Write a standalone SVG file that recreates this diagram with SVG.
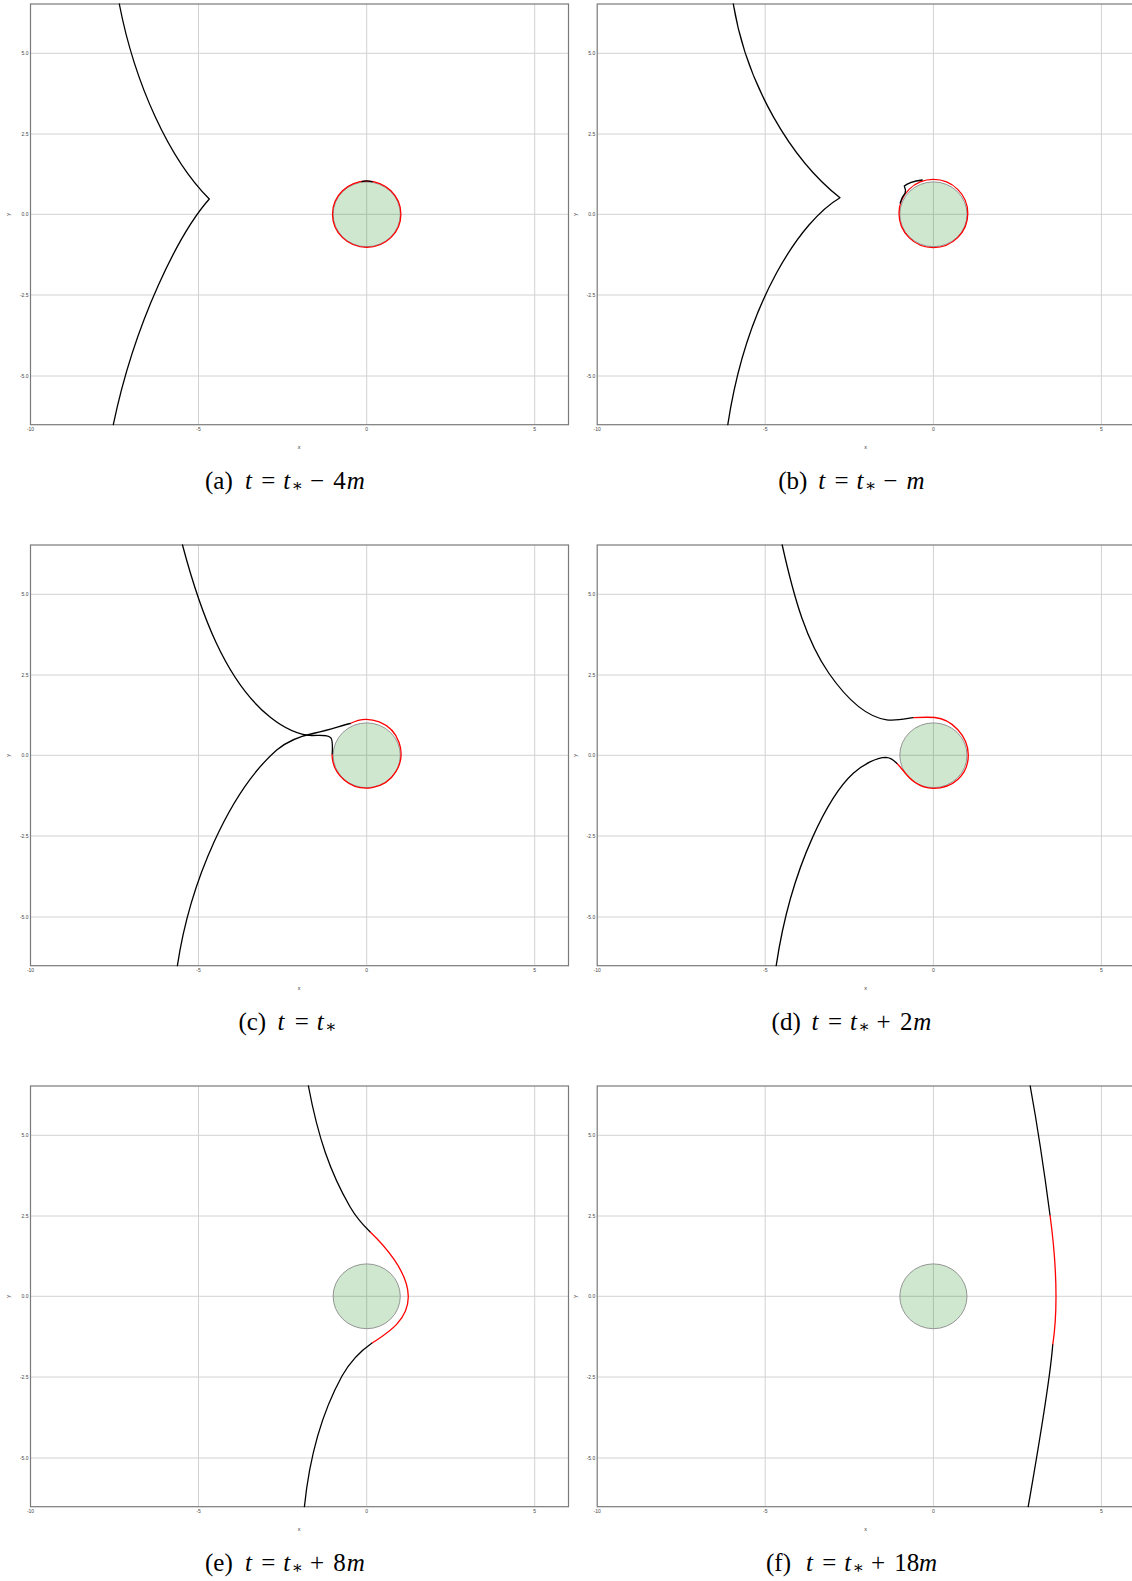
<svg xmlns="http://www.w3.org/2000/svg" xmlns:xlink="http://www.w3.org/1999/xlink" width="1132" height="1581" viewBox="0 0 1132 1581">
<style>
.grid{stroke:#d2d2d2;stroke-width:1;fill:none}
.frame{stroke:#7a7a7a;stroke-width:1.2;fill:none}
.tick{font-family:"Liberation Sans",Arial,sans-serif;font-size:5px;fill:#444}
.ax{font-family:"Liberation Sans",Arial,sans-serif;font-size:5.5px;fill:#333}
.body{fill:#008000;fill-opacity:0.19;stroke:#8a8a8a;stroke-width:0.9}
.cb{fill:none;stroke:#000;stroke-width:1.3;stroke-linejoin:round;stroke-linecap:round}
.cr{fill:none;stroke:#ff0000;stroke-width:1.3;stroke-linejoin:round}
.cap{font-family:"Liberation Serif","Times New Roman",serif;font-size:25px;fill:#000}
.i{font-style:italic}
.ast{font-family:"DejaVu Serif",serif;font-size:17px}
</style>
<defs>
<g id="axes">
<path class="grid" d="M198.5,4V424.7M366.7,4V424.7M534.7,4V424.7M30.5,53.3H568.5M30.5,134H568.5M30.5,214.3H568.5M30.5,295H568.5M30.5,376H568.5"/>
<rect class="frame" x="30.5" y="4" width="538" height="420.7"/>
<g class="tick" text-anchor="end">
<text x="28.5" y="55">5.0</text>
<text x="28.5" y="135.8">2.5</text>
<text x="28.5" y="216.1">0.0</text>
<text x="28.5" y="296.8">-2.5</text>
<text x="28.5" y="377.8">-5.0</text>
</g>
<g class="tick" text-anchor="middle">
<text x="30.5" y="431">-10</text>
<text x="198.5" y="431">-5</text>
<text x="366.7" y="431">0</text>
<text x="534.7" y="431">5</text>
</g>
<text class="ax" x="299" y="449" text-anchor="middle">x</text>
<text class="ax" transform="translate(10,214.3) rotate(-90)" text-anchor="middle">y</text>
<ellipse class="body" cx="366.7" cy="214.3" rx="33.6" ry="32.4"/>
</g>
</defs>

<g id="panel-a">
<use xlink:href="#axes" href="#axes"/>
<ellipse class="cr" cx="366.7" cy="214.2" rx="34.2" ry="33.1"/>
<path class="cb" d="M119.3,4 C135,85 170,160 209.3,199 C180,232 135,320 113.3,424.7"/>
<path class="cb" d="M362,181.3 Q366.7,180.3 372,181.6"/>
<text class="cap" y="488.5"><tspan x="205">(a)</tspan><tspan x="245" class="i">t</tspan><tspan x="261.3">=</tspan><tspan x="283.3" class="i">t</tspan><tspan x="291.8" y="491" class="ast">∗</tspan><tspan x="310" y="488.5">−</tspan><tspan x="333.3">4</tspan><tspan x="346.7" class="i">m</tspan></text>
</g>

<g id="panel-b" transform="translate(566.7,0)">
<use xlink:href="#axes" href="#axes"/>
<ellipse class="cr" cx="366.7" cy="213.5" rx="34.4" ry="34.1"/>
<path class="cb" d="M166.6,4 C180,85 225,160 273.3,197.7 C235,220 180,300 161.1,424.7"/>
<path class="cb" d="M355.5,180 C348,181 341,183 337.6,186 C338.5,188 339,191 338.5,193 C336,196 334.5,199 333.5,203"/>
<text class="cap" y="488.5"><tspan x="211.6">(b)</tspan><tspan x="251.6" class="i">t</tspan><tspan x="267.9">=</tspan><tspan x="289.9" class="i">t</tspan><tspan x="298.4" y="491" class="ast">∗</tspan><tspan x="316.6" y="488.5">−</tspan><tspan x="339.9" class="i">m</tspan></text>
</g>

<g id="panel-c" transform="translate(0,541)">
<use xlink:href="#axes" href="#axes"/>
<path class="cr" d="M332,212.8 A34.5,34.3 0 1 0 350.3,182.5"/>
<path class="cb" d="M182.5,4 C200,70 225,140 270,176 C285,188 300,194 312,194.5 C322,194.5 328,193.5 331,197 C333,200 332.5,206 332.2,212.8"/>
<path class="cb" d="M177.4,424.7 C190,340 230,250 276.7,209 C290,198 305,194 315,192 C330,189 340,185 350.3,182.5"/>
<text class="cap" y="488.5"><tspan x="238.4">(c)</tspan><tspan x="277.4" class="i">t</tspan><tspan x="294.7">=</tspan><tspan x="316.7" class="i">t</tspan><tspan x="325.2" y="491" class="ast">∗</tspan></text>
</g>

<g id="panel-d" transform="translate(566.7,541)">
<use xlink:href="#axes" href="#axes"/>
<path class="cb" d="M215.5,4 C228,60 240,100 262,132 C280,158 300,176 320,178.8 C330,180 340,177.5 346.6,176.7"/>
<path class="cr" d="M346.6,176.7 C355,176.2 362,176 368,176.5 C385,178 401.6,195 401.6,214 C401.6,234 386,247.3 366.6,247.3 C352,247.3 343,238 336,229 C333,225.5 331.5,223.5 330,222.3"/>
<path class="cb" d="M330,222.3 C327,219 324,216.3 319,216.3 C310,216.5 297,223 286.6,232.3 C265,252 225,320 209.5,424.7"/>
<text class="cap" y="488.5"><tspan x="204.9">(d)</tspan><tspan x="244.9" class="i">t</tspan><tspan x="261.2">=</tspan><tspan x="283.2" class="i">t</tspan><tspan x="291.7" y="491" class="ast">∗</tspan><tspan x="309.9" y="488.5">+</tspan><tspan x="333.2">2</tspan><tspan x="346.6" class="i">m</tspan></text>
</g>

<g id="panel-e" transform="translate(0,1082)">
<use xlink:href="#axes" href="#axes"/>
<path class="cb" d="M308.4,4 C318,55 330,90 350,124.7 C356,135 363,143 370,149.7"/>
<path class="cr" d="M370,149.7 C384,163 408.3,190 408.3,214.7 C408.3,240 384,253 371.7,261.3"/>
<path class="cb" d="M371.7,261.3 C362,268 350,280 342,294 C325,325 310,370 304.4,424.7"/>
<text class="cap" y="488.5"><tspan x="205">(e)</tspan><tspan x="245" class="i">t</tspan><tspan x="261.3">=</tspan><tspan x="283.3" class="i">t</tspan><tspan x="291.8" y="491" class="ast">∗</tspan><tspan x="310" y="488.5">+</tspan><tspan x="333.3">8</tspan><tspan x="346.7" class="i">m</tspan></text>
</g>

<g id="panel-f" transform="translate(566.7,1082)">
<use xlink:href="#axes" href="#axes"/>
<path class="cb" d="M463.5,4 Q474,62 483.3,133"/>
<path class="cr" d="M483.3,133 C487,160 489.3,190 489.3,214.7 C489.3,235 488,250 486,263"/>
<path class="cb" d="M486,263 C484,290 478,330 461.5,424.7"/>
<text class="cap" y="488.5"><tspan x="199.3">(f)</tspan><tspan x="239.3" class="i">t</tspan><tspan x="255.6">=</tspan><tspan x="277.6" class="i">t</tspan><tspan x="286.1" y="491" class="ast">∗</tspan><tspan x="304.3" y="488.5">+</tspan><tspan x="327.6">18</tspan><tspan x="352.4" class="i">m</tspan></text>
</g>
</svg>
